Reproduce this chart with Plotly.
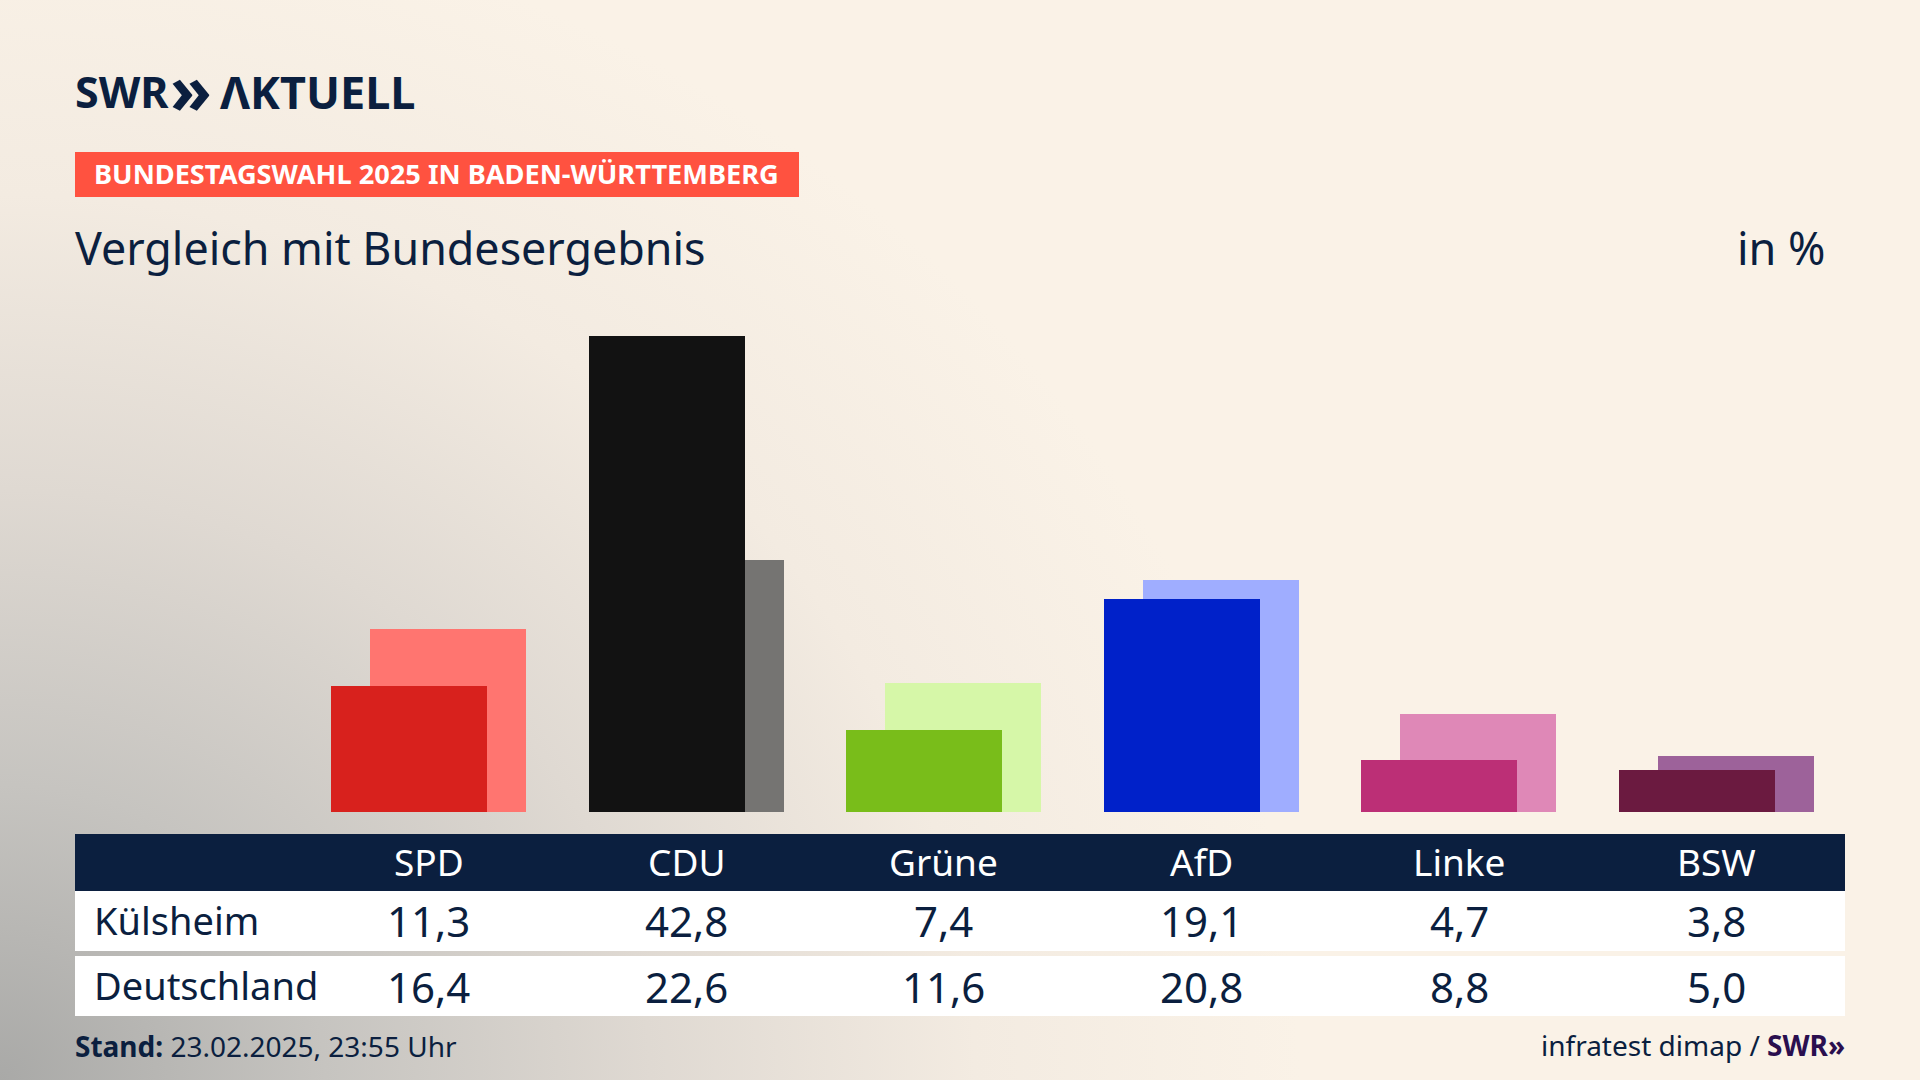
import plotly.graph_objects as go

W, H = 1920, 1080

parties = ["SPD", "CDU", "Grüne", "AfD", "Linke", "BSW"]
kuelsheim = [11.3, 42.8, 7.4, 19.1, 4.7, 3.8]
deutschland = [16.4, 22.6, 11.6, 20.8, 8.8, 5.0]
colors_local = ["#d8211d", "#121212", "#79bd1a", "#0021c9", "#bc2f76", "#6b1a40"]
colors_national = ["#ff7570", "#757472", "#d6f7a8", "#9fadff", "#df88b7", "#9d629a"]

NAVY = "#0b1f3f"
FONT = "Noto Sans"


def fmt(v):
    return f"{v:.1f}".replace(".", ",")


def px(x):
    return x / W


def py(y):
    return 1 - y / H


fig = go.Figure()

# background wash: elliptical gradient centred on the bottom-left corner
RX, RY = 1300, 1180
fig.add_trace(go.Scatter(
    x=[-RX, RX, RX, -RX, -RX], y=[-RY, -RY, RY, RY, -RY],
    xaxis="x2", yaxis="y2", mode="lines", line=dict(width=0),
    fill="toself",
    fillgradient=dict(type="radial", colorscale=[
        [0.0, "#a9a9a7"], [0.25, "#c6c4c0"], [0.5, "#dfd9d2"],
        [0.75, "#f3ebe1"], [1.0, "#faf2e7"]]),
    hoverinfo="skip", showlegend=False))

SPACING = 257.6
FIRST = 428.6
BAR_W = 156 / SPACING
fig.add_trace(go.Bar(
    x=parties, y=deutschland, name="Deutschland",
    marker=dict(color=colors_national, line_width=0),
    width=BAR_W, offset=-58.6 / SPACING, showlegend=False))
fig.add_trace(go.Bar(
    x=parties, y=kuelsheim, name="Külsheim",
    marker=dict(color=colors_local, line_width=0),
    width=BAR_W, offset=-97.6 / SPACING, showlegend=False))

BASE = 812
PX_PER_UNIT = 476.5 / 42.8

shapes = []
for x0, y0, x1, y1, c in [
    (75, 152, 799, 197, "#ff5240"),
    (75, 834, 1845, 891, NAVY),
    (75, 891, 1845, 951, "#ffffff"),
    (75, 956, 1845, 1016, "#ffffff"),
]:
    shapes.append(dict(type="rect", xref="paper", yref="paper", x0=px(x0), x1=px(x1),
                       y0=py(y1), y1=py(y0), fillcolor=c, line_width=0, layer="above"))

ann = []


def text(x, y, s, size, color=NAVY, anchor="left", family=FONT):
    ann.append(dict(xref="paper", yref="paper", x=px(x), y=py(y), text=s, showarrow=False,
                    xanchor=anchor, yanchor="middle", align=anchor,
                    font=dict(family=family, size=size, color=color), borderpad=0, borderwidth=0))


text(75, 92, "<b>SWR</b>", 43, NAVY)
text(170, 87, "<b>»</b>", 68, NAVY)
text(220, 92, "<b>ΛKTUELL</b>", 45, NAVY)
text(94, 174, "<b>BUNDESTAGSWAHL 2025 IN BADEN-WÜRTTEMBERG</b>", 27.2, "#ffffff")
text(75, 247, "Vergleich mit Bundesergebnis", 44.8)
text(1826, 247, "in %", 45, anchor="right")
text(94, 920, "Külsheim", 38)
text(94, 985, "Deutschland", 38)
for i, p in enumerate(parties):
    cx = FIRST + SPACING * i
    text(cx, 861, p, 37, "#ffffff", "center")
    text(cx, 920, fmt(kuelsheim[i]), 42, anchor="center")
    text(cx, 986, fmt(deutschland[i]), 42, anchor="center")
text(75, 1046, "<b>Stand:</b> 23.02.2025, 23:55 Uhr", 28)
text(1845, 1045, 'infratest dimap / <b><span style="color:#2a0f4f">SWR»</span></b>', 28, anchor="right")

fig.update_layout(
    width=W, height=H, margin=dict(l=0, r=0, t=0, b=0), autosize=False,
    paper_bgcolor="#faf2e7", plot_bgcolor="rgba(0,0,0,0)", barmode="overlay", bargap=0,
    showlegend=False, shapes=shapes, annotations=ann,
    xaxis=dict(domain=[0, 1], type="category", categoryorder="array", categoryarray=parties,
               range=[-FIRST / SPACING, (W - FIRST) / SPACING], visible=False,
               overlaying="x2", fixedrange=True),
    yaxis=dict(domain=[0, 1], range=[-(H - BASE) / PX_PER_UNIT, BASE / PX_PER_UNIT], visible=False,
               overlaying="y2", fixedrange=True),
    xaxis2=dict(domain=[0, 1], range=[0, W], visible=False, fixedrange=True, anchor="y2"),
    yaxis2=dict(domain=[0, 1], range=[0, H], visible=False, fixedrange=True, anchor="x2"),
)

fig.write_html("out.html", config=dict(displayModeBar=False),
               post_script="document.body.style.margin='0';document.body.style.overflow='hidden';")
